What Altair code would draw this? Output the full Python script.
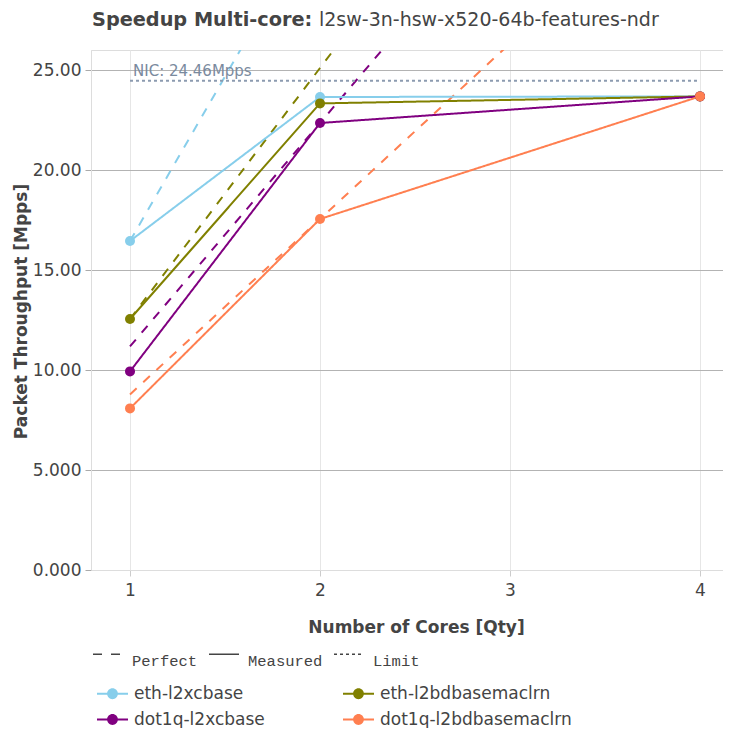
import altair as alt
import pandas as pd

# ---------------- data ----------------
cores = [1, 2, 4]
tests = ["eth-l2xcbase", "eth-l2bdbasemaclrn", "dot1q-l2xcbase", "dot1q-l2bdbasemaclrn"]
colors = ["#87CEEB", "#808000", "#800080", "#FF7F50"]

measured_eth_l2xcbase = [16.45, 23.65, 23.68]
measured_eth_l2bdbasemaclrn = [12.55, 23.33, 23.68]
measured_dot1q_l2xcbase = [9.93, 22.35, 23.68]
measured_dot1q_l2bdbasemaclrn = [8.08, 17.55, 23.68]

perfect_eth_l2xcbase = [16.45, 32.9, 65.8]
perfect_eth_l2bdbasemaclrn = [12.55, 25.1, 50.2]
perfect_dot1q_l2xcbase = [11.18, 22.35, 44.7]
perfect_dot1q_l2bdbasemaclrn = [8.78, 17.55, 35.1]

limit_cores = [1, 4]
limit_values = [24.46, 24.46]
limit_label = "NIC: 24.46Mpps"

line_kinds = ["Perfect", "Measured", "Limit"]
x_ticks = [1, 2, 3, 4]
y_ticks = [0, 5, 10, 15, 20, 25]

title_bold = "Speedup Multi-core:"
title_rest = "l2sw-3n-hsw-x520-64b-features-ndr"

measured = [measured_eth_l2xcbase, measured_eth_l2bdbasemaclrn,
            measured_dot1q_l2xcbase, measured_dot1q_l2bdbasemaclrn]
perfect = [perfect_eth_l2xcbase, perfect_eth_l2bdbasemaclrn,
           perfect_dot1q_l2xcbase, perfect_dot1q_l2bdbasemaclrn]

rows_m, rows_p = [], []
for t, mv, pv in zip(tests, measured, perfect):
    for c, m, p in zip(cores, mv, pv):
        rows_m.append({"cores": c, "value": m, "test": t, "kind": "Measured"})
        rows_p.append({"cores": c, "value": p, "test": t, "kind": "Perfect"})
df_m = pd.DataFrame(rows_m)
df_p = pd.DataFrame(rows_p)
df_l = pd.DataFrame({"cores": limit_cores, "value": limit_values, "kind": ["Limit"] * 2})

FONT = "DejaVu Sans"
TXT = "#444444"

x_enc = alt.X("cores:Q",
              scale=alt.Scale(domain=[0.7947, 4.121], nice=False, zero=False),
              axis=alt.Axis(values=x_ticks, format="d", title="Number of Cores [Qty]",
                            grid=True, gridColor="#e6e6e6",
                            domainColor="#dddddd", tickColor="#cccccc", tickSize=6,
                            labelPadding=6, labelFontSize=17, labelColor=TXT, labelFont=FONT,
                            titleFontSize=17, titleFont=FONT, titleFontWeight="bold", titleColor=TXT,
                            titleX=325, titleY=57, titleBaseline="middle", titleAlign="center"))
y_enc = alt.Y("value:Q",
              scale=alt.Scale(domain=[0, 26], nice=False),
              axis=alt.Axis(values=y_ticks, title="Packet Throughput [Mpps]",
                            labelExpr="datum.value == 0 ? '0.000' : (datum.value < 10 ? format(datum.value, '.3f') : format(datum.value, '.2f'))",
                            grid=True,
                            gridColor={"condition": {"test": "datum.value === 0", "value": "#dddddd"}, "value": "#b3b3b3"},
                            domainColor="#dddddd", tickColor="#aaaaaa", tickSize=6,
                            labelPadding=4, labelFontSize=17, labelColor=TXT, labelFont=FONT,
                            titleFontSize=17, titleFont=FONT, titleFontWeight="bold", titleColor=TXT,
                            titleX=-70, titleY=261, titleAngle=270, titleBaseline="middle",
                            titleAlign="center"))

color_enc = alt.Color("test:N", scale=alt.Scale(domain=tests, range=colors),
                      legend=alt.Legend(title=None, orient="none", legendX=10, legendY=632,
                                        direction="horizontal",
                                        columns=2, columnPadding=77, rowPadding=6,
                                        symbolType="M-1.348,-0.087L1.348,-0.087L1.348,0.087L-1.348,0.087Z M-0.47,0A0.47,0.47 0 1,1 0.47,0A0.47,0.47 0 1,1 -0.47,0Z",
                                        symbolSize=529, symbolStrokeWidth=0, labelOffset=10,
                                        labelFontSize=17, labelFont=FONT, labelColor=TXT,
                                        labelLimit=400, padding=0))
dash_enc = alt.StrokeDash("kind:N",
                          scale=alt.Scale(domain=line_kinds, range=[[9, 9], [1, 0], [3, 3]]),
                          legend=alt.Legend(title=None, orient="none", legendX=1, legendY=588,
                                            direction="horizontal", columnPadding=8,
                                            symbolType="stroke", symbolSize=900,
                                            symbolStrokeColor="#444444", symbolStrokeWidth=1.5,
                                            labelOffset=8, labelBaseline="top",
                                            labelFontSize=15.5, labelFont="Liberation Mono",
                                            labelColor=TXT, padding=0))

perfect_layer = alt.Chart(df_p).mark_line(strokeWidth=2, clip=True).encode(
    x=x_enc, y=y_enc, color=color_enc, strokeDash=dash_enc, detail="test:N")
limit_layer = alt.Chart(df_l).mark_line(strokeWidth=2, clip=True, color="#8c9bb0").encode(
    x=x_enc, y=y_enc, strokeDash=dash_enc)
limit_text = alt.Chart(df_l.head(1)).mark_text(
    align="left", baseline="alphabetic", dx=3, dy=-4.5, fontSize=15, font=FONT,
    color="#7a8a9e").encode(x=x_enc, y=y_enc, text=alt.value(limit_label))
measured_layer = alt.Chart(df_m).mark_line(strokeWidth=2, clip=True).encode(
    x=x_enc, y=y_enc, color=color_enc, strokeDash=dash_enc, detail="test:N")
points_layer = alt.Chart(df_m).mark_point(filled=True, size=100, opacity=1).encode(
    x=x_enc, y=y_enc, color=color_enc)

df_t = pd.DataFrame({"bold": [title_bold], "rest": [title_rest]})
title1 = alt.Chart(df_t).mark_text(align="left", baseline="alphabetic", fontSize=19.3,
                                   font=FONT, fontWeight="bold", color=TXT).encode(
    x=alt.value(1), y=alt.value(-24.5), text="bold:N")
title2 = alt.Chart(df_t).mark_text(align="left", baseline="alphabetic", fontSize=19,
                                   font=FONT, color=TXT).encode(
    x=alt.value(228), y=alt.value(-24.5), text="rest:N")

chart = alt.layer(perfect_layer, limit_layer, measured_layer, points_layer,
                  limit_text, title1, title2).properties(
    width=632, height=520,
    autosize=alt.AutoSizeParams(type="none"),
    padding={"left": 83, "top": 42, "right": 0, "bottom": 158},
).configure_view(stroke=None).configure(background="white")

chart.save("out.html", embed_options={"renderer": "svg", "actions": False})
